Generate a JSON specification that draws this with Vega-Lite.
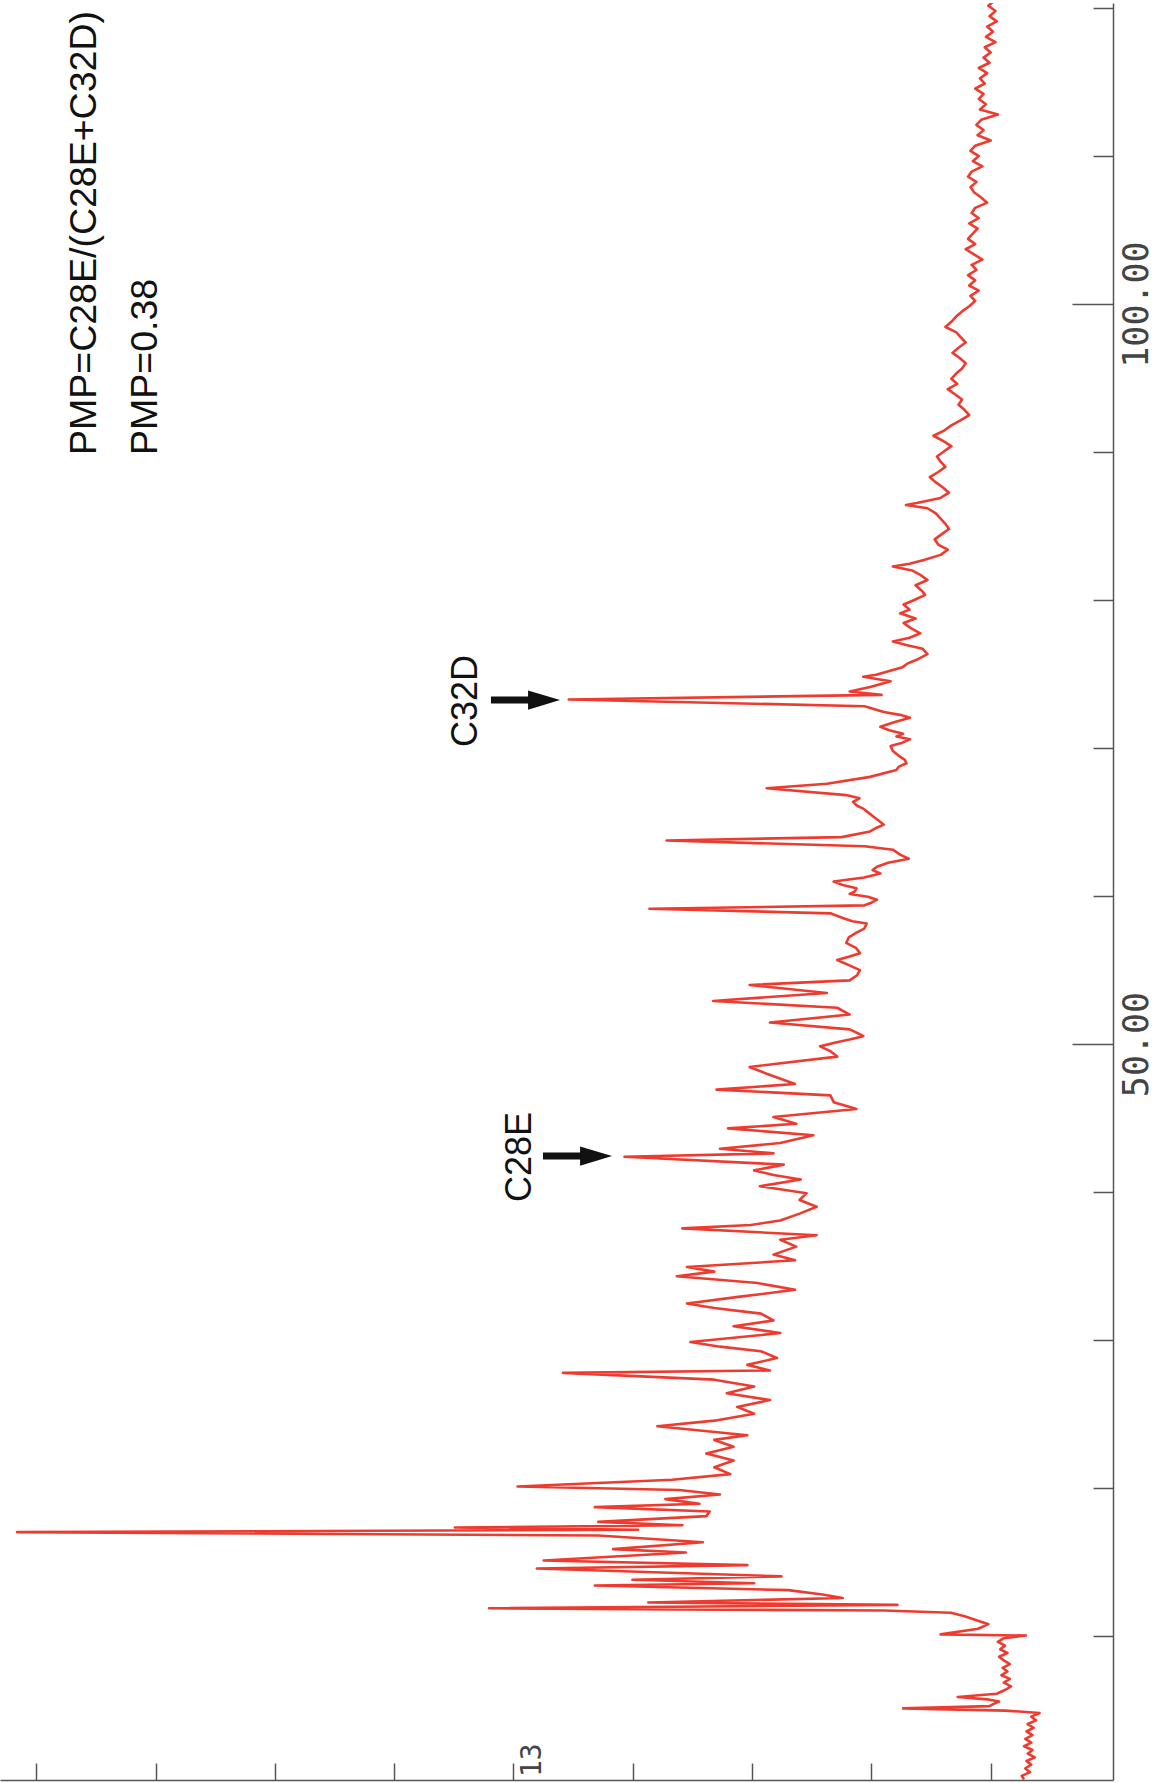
{
  "$schema": "https://vega.github.io/schema/vega-lite/v6.json",
  "width": 1113,
  "height": 1777,
  "autosize": "none",
  "padding": {"left": 0, "top": 3, "right": 46, "bottom": 3},
  "background": "white",
  "config": {"view": {"stroke": null}},
  "datasets": {
    "trace": [
      {"t":120.5,"v":9.7},{"t":120.15,"v":10.2},{"t":119.8,"v":9.6},{"t":119.45,"v":10.1},{"t":119.1,"v":9.5},
      {"t":118.75,"v":10.3},{"t":118.4,"v":9.8},{"t":118.05,"v":10.4},{"t":117.7,"v":9.6},{"t":117.35,"v":10.5},
      {"t":117.0,"v":10.0},{"t":116.65,"v":10.6},{"t":116.3,"v":10.1},{"t":115.95,"v":11.0},{"t":115.6,"v":10.3},
      {"t":115.25,"v":10.9},{"t":114.9,"v":10.5},{"t":114.55,"v":11.3},{"t":114.2,"v":10.6},{"t":113.85,"v":11.0},
      {"t":113.5,"v":10.4},{"t":113.15,"v":10.9},{"t":112.8,"v":9.4},{"t":112.45,"v":10.8},{"t":112.1,"v":11.2},
      {"t":111.75,"v":10.6},{"t":111.4,"v":11.1},{"t":111.05,"v":10.0},{"t":110.7,"v":11.3},{"t":110.35,"v":11.7},
      {"t":110.0,"v":11.0},{"t":109.65,"v":11.5},{"t":109.3,"v":10.7},{"t":108.95,"v":11.6},{"t":108.6,"v":11.9},
      {"t":108.25,"v":11.2},{"t":107.9,"v":11.7},{"t":107.55,"v":11.4},{"t":107.2,"v":10.8},{"t":106.85,"v":10.3},
      {"t":106.5,"v":11.3},{"t":106.15,"v":11.6},{"t":105.8,"v":11.0},{"t":105.45,"v":11.8},{"t":105.1,"v":11.1},
      {"t":104.75,"v":11.5},{"t":104.4,"v":11.9},{"t":104.05,"v":11.3},{"t":103.7,"v":12.1},{"t":103.35,"v":11.4},
      {"t":103.0,"v":10.7},{"t":102.65,"v":11.6},{"t":102.3,"v":11.2},{"t":101.95,"v":11.9},{"t":101.6,"v":11.3},
      {"t":101.25,"v":11.8},{"t":100.9,"v":11.0},{"t":100.55,"v":11.7},{"t":100.2,"v":11.3},{"t":99.85,"v":11.8},
      {"t":99.5,"v":12.4},{"t":99.15,"v":12.9},{"t":98.8,"v":13.3},{"t":98.45,"v":13.8},{"t":98.1,"v":12.9},
      {"t":97.75,"v":12.5},{"t":97.4,"v":12.1},{"t":97.05,"v":12.7},{"t":96.7,"v":13.2},{"t":96.35,"v":12.6},
      {"t":96.0,"v":12.1},{"t":95.65,"v":12.4},{"t":95.3,"v":12.9},{"t":94.95,"v":13.3},{"t":94.6,"v":12.8},
      {"t":94.25,"v":13.6},{"t":93.9,"v":13.0},{"t":93.55,"v":12.4},{"t":93.2,"v":12.7},{"t":92.85,"v":12.2},
      {"t":92.5,"v":11.8},{"t":92.15,"v":12.5},{"t":91.8,"v":13.3},{"t":91.45,"v":13.9},{"t":91.1,"v":14.8},
      {"t":90.75,"v":14.0},{"t":90.4,"v":13.3},{"t":90.05,"v":13.9},{"t":89.7,"v":14.5},{"t":89.35,"v":14.2},
      {"t":89.0,"v":13.8},{"t":88.65,"v":14.4},{"t":88.3,"v":15.1},{"t":87.95,"v":14.6},{"t":87.6,"v":14.0},
      {"t":87.25,"v":13.5},{"t":86.9,"v":14.2},{"t":86.55,"v":16.2},{"t":86.42,"v":17.1},{"t":86.2,"v":15.3},
      {"t":85.85,"v":14.6},{"t":85.5,"v":14.2},{"t":85.15,"v":13.8},{"t":84.8,"v":13.5},{"t":84.45,"v":14.1},
      {"t":84.1,"v":14.7},{"t":83.75,"v":14.4},{"t":83.4,"v":13.6},{"t":83.05,"v":14.2},{"t":82.7,"v":15.6},
      {"t":82.45,"v":16.8},{"t":82.27,"v":18.2},{"t":82.0,"v":16.6},{"t":81.7,"v":15.9},{"t":81.35,"v":15.3},
      {"t":81.0,"v":16.3},{"t":80.65,"v":15.8},{"t":80.35,"v":15.5},{"t":80.0,"v":16.4},{"t":79.7,"v":17.3},
      {"t":79.35,"v":16.8},{"t":79.1,"v":17.6},{"t":78.75,"v":16.3},{"t":78.45,"v":17.3},{"t":78.1,"v":16.7},
      {"t":77.75,"v":15.9},{"t":77.45,"v":16.8},{"t":77.2,"v":18.2},{"t":76.95,"v":17.0},{"t":76.7,"v":15.7},
      {"t":76.35,"v":15.3},{"t":76.0,"v":16.1},{"t":75.7,"v":17.0},{"t":75.45,"v":17.4},{"t":75.2,"v":18.5},
      {"t":74.95,"v":19.6},{"t":74.81,"v":20.68},{"t":74.51,"v":18.39},{"t":74.12,"v":20.11},{"t":73.82,"v":21.82},
      {"t":73.59,"v":19.15},{"t":73.28,"v":45.37},{"t":72.82,"v":20.58},{"t":72.43,"v":18.96},{"t":72.24,"v":17.6},
      {"t":72.05,"v":16.77},{"t":71.74,"v":18.1},{"t":71.43,"v":19.25},{"t":71.2,"v":18.5},{"t":70.97,"v":17.34},
      {"t":70.78,"v":17.9},{"t":70.59,"v":16.77},{"t":70.36,"v":17.4},{"t":70.13,"v":18.39},{"t":69.8,"v":18.2},
      {"t":69.43,"v":17.63},{"t":69.2,"v":17.2},{"t":68.97,"v":17.06},{"t":68.74,"v":17.7},{"t":68.51,"v":17.91},
      {"t":68.05,"v":20.11},{"t":67.59,"v":23.73},{"t":67.28,"v":28.78},{"t":66.82,"v":22.11},{"t":66.6,"v":21.0},
      {"t":66.36,"v":21.54},{"t":66.1,"v":21.2},{"t":65.9,"v":20.68},{"t":65.6,"v":20.2},{"t":65.36,"v":19.82},
      {"t":65.1,"v":19.4},{"t":64.82,"v":18.96},{"t":64.6,"v":19.6},{"t":64.36,"v":20.11},{"t":63.98,"v":22.49},
      {"t":63.75,"v":37.17},{"t":63.36,"v":20.58},{"t":63.13,"v":18.2},{"t":62.8,"v":17.6},{"t":62.52,"v":16.87},
      {"t":62.25,"v":18.6},{"t":61.98,"v":19.53},{"t":61.75,"v":19.9},{"t":61.52,"v":19.25},{"t":61.25,"v":20.6},
      {"t":60.98,"v":23.16},{"t":60.75,"v":22.4},{"t":60.52,"v":21.25},{"t":60.3,"v":21.4},{"t":60.14,"v":21.82},
      {"t":59.95,"v":20.3},{"t":59.75,"v":19.53},{"t":59.55,"v":20.0},{"t":59.37,"v":20.58},{"t":59.14,"v":38.6},
      {"t":58.83,"v":23.44},{"t":58.52,"v":22.4},{"t":58.3,"v":21.6},{"t":58.14,"v":20.39},{"t":57.8,"v":20.6},
      {"t":57.52,"v":21.25},{"t":57.2,"v":21.9},{"t":56.83,"v":22.11},{"t":56.5,"v":21.3},{"t":56.14,"v":20.96},
      {"t":55.9,"v":21.9},{"t":55.68,"v":22.87},{"t":55.3,"v":21.8},{"t":54.99,"v":20.96},{"t":54.65,"v":21.2},
      {"t":54.3,"v":21.82},{"t":53.99,"v":30.21},{"t":53.45,"v":23.73},{"t":52.91,"v":33.26},{"t":52.45,"v":22.87},
      {"t":51.99,"v":21.82},{"t":51.45,"v":28.5},{"t":50.99,"v":21.82},{"t":50.75,"v":21.2},{"t":50.53,"v":20.68},
      {"t":50.3,"v":21.82},{"t":50.1,"v":23.0},{"t":49.84,"v":24.3},{"t":49.5,"v":23.4},{"t":49.15,"v":22.87},
      {"t":48.45,"v":30.21},{"t":47.99,"v":28.78},{"t":47.3,"v":26.4},{"t":46.92,"v":32.98},{"t":46.53,"v":23.44},
      {"t":46.07,"v":23.16},{"t":45.61,"v":21.25},{"t":45.07,"v":28.21},{"t":44.61,"v":26.3},{"t":44.3,"v":32.02},
      {"t":43.84,"v":24.87},{"t":43.31,"v":27.64},{"t":42.92,"v":32.69},{"t":42.61,"v":28.21},{"t":42.38,"v":40.7},
      {"t":41.85,"v":27.35},{"t":41.46,"v":29.83},{"t":41.15,"v":28.21},{"t":40.85,"v":25.92},{"t":40.39,"v":29.35},
      {"t":39.92,"v":25.44},{"t":39.46,"v":26.02},{"t":39.0,"v":24.59},{"t":38.54,"v":26.02},{"t":38.08,"v":27.64},
      {"t":37.77,"v":30.12},{"t":37.54,"v":35.84},{"t":37.08,"v":24.59},{"t":36.77,"v":27.64},{"t":36.31,"v":26.3},
      {"t":35.77,"v":28.21},{"t":35.39,"v":26.4},{"t":34.93,"v":35.46},{"t":34.62,"v":33.17},{"t":34.31,"v":36.31},
      {"t":33.85,"v":29.55},{"t":33.39,"v":26.4},{"t":32.93,"v":30.98},{"t":32.47,"v":35.46},{"t":32.16,"v":33.17},
      {"t":31.78,"v":29.26},{"t":31.32,"v":28.21},{"t":30.93,"v":31.55},{"t":30.47,"v":27.64},{"t":29.86,"v":35.17},
      {"t":29.55,"v":32.69},{"t":29.24,"v":29.26},{"t":28.78,"v":27.92},{"t":28.32,"v":30.4},{"t":27.94,"v":28.5},
      {"t":27.78,"v":45.85},{"t":27.32,"v":33.17},{"t":26.86,"v":29.83},{"t":26.4,"v":32.12},{"t":25.94,"v":28.5},
      {"t":25.48,"v":31.26},{"t":25.02,"v":29.83},{"t":24.55,"v":33.17},{"t":24.17,"v":37.94},{"t":23.56,"v":30.4},
      {"t":23.25,"v":33.17},{"t":22.79,"v":31.55},{"t":22.33,"v":33.84},{"t":21.86,"v":31.55},{"t":21.4,"v":33.17},
      {"t":20.94,"v":31.83},{"t":20.56,"v":36.7},{"t":20.1,"v":49.66},{"t":19.87,"v":36.12},{"t":19.56,"v":32.69},
      {"t":19.25,"v":37.27},{"t":18.94,"v":34.41},{"t":18.71,"v":43.18},{"t":18.41,"v":33.55},{"t":18.1,"v":33.84},
      {"t":17.71,"v":42.89},{"t":17.48,"v":35.84},{"t":17.33,"v":54.91},{"t":17.18,"v":39.56},{"t":17.02,"v":91.61},
      {"t":16.79,"v":42.89},{"t":16.33,"v":34.12},{"t":15.87,"v":41.65},{"t":15.64,"v":35.55},{"t":15.1,"v":47.47},
      {"t":14.79,"v":30.4},{"t":14.56,"v":48.04},{"t":14.03,"v":27.54},{"t":13.8,"v":40.03},{"t":13.56,"v":29.83},
      {"t":13.41,"v":43.18},{"t":13.1,"v":26.97},{"t":12.8,"v":24.11},{"t":12.57,"v":22.4},{"t":12.26,"v":38.7},
      {"t":12.1,"v":17.82},{"t":11.87,"v":52.05},{"t":11.72,"v":18.96},{"t":11.57,"v":13.34},{"t":11.34,"v":12.19},
      {"t":10.8,"v":10.19},{"t":10.49,"v":11.05},{"t":10.11,"v":14.2},{"t":10.03,"v":7.05},{"t":9.85,"v":8.9},
      {"t":9.6,"v":9.4},{"t":9.35,"v":8.8},{"t":9.1,"v":9.2},{"t":8.85,"v":8.6},{"t":8.6,"v":9.3},
      {"t":8.35,"v":8.9},{"t":8.1,"v":8.4},{"t":7.85,"v":9.0},{"t":7.6,"v":8.6},{"t":7.35,"v":9.1},
      {"t":7.1,"v":8.4},{"t":6.85,"v":8.9},{"t":6.6,"v":8.3},{"t":6.35,"v":8.8},{"t":6.1,"v":9.5},
      {"t":5.88,"v":12.77},{"t":5.72,"v":10.3},{"t":5.57,"v":9.3},{"t":5.4,"v":9.8},{"t":5.26,"v":10.1},
      {"t":5.11,"v":17.34},{"t":4.96,"v":8.76},{"t":4.8,"v":5.9},{"t":4.55,"v":6.6},{"t":4.3,"v":6.2},
      {"t":4.05,"v":6.9},{"t":3.8,"v":6.4},{"t":3.55,"v":7.0},{"t":3.3,"v":6.5},{"t":3.05,"v":7.1},
      {"t":2.8,"v":6.6},{"t":2.55,"v":7.2},{"t":2.3,"v":6.5},{"t":2.05,"v":6.9},{"t":1.8,"v":6.3},
      {"t":1.55,"v":7.0},{"t":1.3,"v":6.6},{"t":1.05,"v":7.1},{"t":0.8,"v":6.7},{"t":0.55,"v":7.4},
      {"t":0.3,"v":7.2}
    ],
    "notes": [
      {"v":85.92,"t":89.8,"label":"PMP=C28E/(C28E+C32D)","size":37.5},
      {"v":80.8,"t":89.8,"label":"PMP=0.38","size":37.5},
      {"v":53.98,"t":70.07,"label":"C32D","size":36},
      {"v":49.45,"t":39.32,"label":"C28E","size":36}
    ],
    "arrows": [
      {"v":51.89,"v2":47.44,"t":73.24},
      {"v":47.53,"v2":43.08,"t":42.43}
    ],
    "marker": [
      {"v":48.4,"t":0.47,"label":"13"}
    ]
  },
  "layer": [
    {
      "data": {"name": "trace"},
      "mark": {"type": "line", "color": "#ee3b2f", "strokeWidth": 2.6, "clip": true, "strokeJoin": "round"},
      "encoding": {
        "x": {
          "field": "v", "type": "quantitative",
          "scale": {"domain": [-0.25, 93.04], "reverse": true, "nice": false, "zero": false},
          "axis": {
            "orient": "bottom", "values": [10,20,30,40,50,60,70,80,90], "labels": false, "title": null,
            "grid": false, "tickSize": -17, "tickColor": "#555", "tickWidth": 1.5,
            "domainColor": "#555", "domainWidth": 1.5
          }
        },
        "y": {
          "field": "t", "type": "quantitative",
          "scale": {"domain": [0.27, 120.34], "nice": false, "zero": false},
          "axis": {
            "orient": "right", "values": [10,20,30,40,50,60,70,80,90,100,110,120], "title": null, "grid": false,
            "tickSize": {"condition": {"test": "datum.value % 50 === 0", "value": -41}, "value": -20},
            "tickColor": "#555", "tickWidth": 1.5, "domainColor": "#555", "domainWidth": 1.5,
            "labelExpr": "datum.value % 50 === 0 ? format(datum.value, '.2f') : ''",
            "labelAngle": 270, "labelAlign": "center", "labelBaseline": "top", "labelPadding": 47,
            "labelFont": "DejaVu Sans Mono", "labelFontSize": 35, "labelColor": "#444",
            "labelFlush": false, "labelOverlap": false
          }
        },
        "order": {"field": "t", "type": "quantitative"}
      }
    },
    {
      "mark": {"type": "rule", "color": "#999", "strokeWidth": 1.5},
      "encoding": {"y": {"datum": 120.3}}
    },
    {
      "data": {"name": "notes"},
      "mark": {"type": "text", "angle": 270, "align": "left", "baseline": "middle", "font": "Liberation Sans", "color": "#111"},
      "encoding": {
        "x": {"field": "v", "type": "quantitative"},
        "y": {"field": "t", "type": "quantitative"},
        "text": {"field": "label"},
        "size": {"field": "size", "type": "quantitative", "scale": null}
      }
    },
    {
      "data": {"name": "marker"},
      "mark": {"type": "text", "angle": 270, "align": "left", "baseline": "middle", "font": "DejaVu Sans Mono", "fontSize": 28, "color": "#444"},
      "encoding": {
        "x": {"field": "v", "type": "quantitative"},
        "y": {"field": "t", "type": "quantitative"},
        "text": {"field": "label"}
      }
    },
    {
      "data": {"name": "arrows"},
      "mark": {"type": "rule", "color": "#111", "strokeWidth": 7},
      "encoding": {
        "x": {"field": "v", "type": "quantitative"},
        "x2": {"field": "v2"},
        "y": {"field": "t", "type": "quantitative"}
      }
    },
    {
      "data": {"name": "arrows"},
      "mark": {"type": "point", "shape": "M -1 -0.6 L 1 0 L -1 0.6 Z", "filled": true, "color": "#111", "opacity": 1, "size": 1024},
      "encoding": {
        "x": {"field": "v2", "type": "quantitative"},
        "y": {"field": "t", "type": "quantitative"}
      }
    }
  ]
}
